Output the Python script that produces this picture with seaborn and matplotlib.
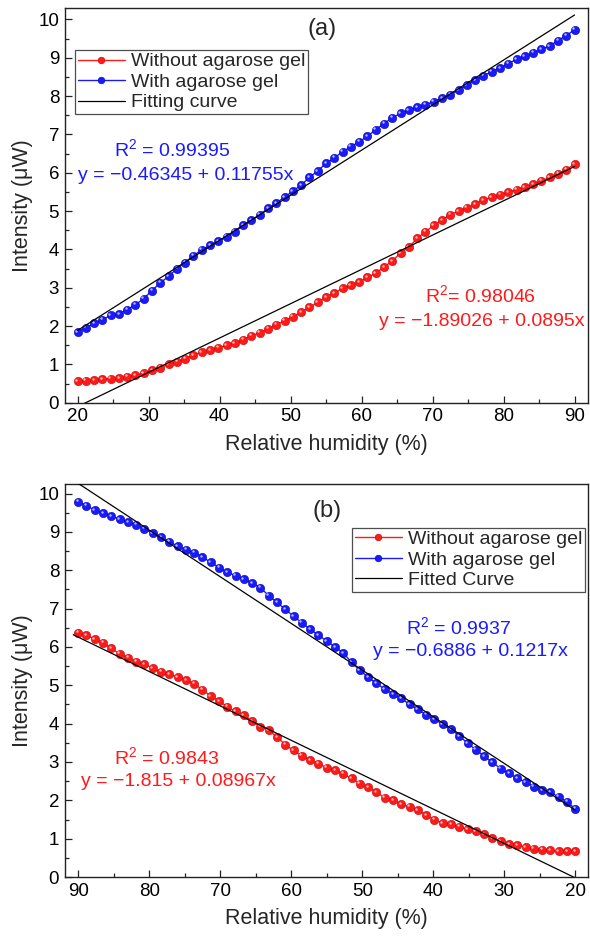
import numpy as np
import pandas as pd
import matplotlib
matplotlib.use("Agg")
import matplotlib.pyplot as plt
import matplotlib.transforms as mtransforms
from matplotlib.ticker import MultipleLocator
import seaborn as sns

sns.set_theme(style="white")
plt.rcParams['font.family'] = ['Liberation Sans', 'DejaVu Sans']
plt.rcParams['mathtext.fontset'] = 'custom'
plt.rcParams['mathtext.rm'] = 'Liberation Sans'

# ---------------- data ----------------
rh_a = np.linspace(20, 90, 61)
without_a = [0.56, 0.58, 0.59, 0.61, 0.63, 0.65, 0.68, 0.72, 0.78, 0.85,
             0.92, 1.00, 1.07, 1.15, 1.25, 1.32, 1.38, 1.44, 1.50, 1.56,
             1.65, 1.75, 1.83, 1.93, 2.04, 2.14, 2.25, 2.36, 2.49, 2.62,
             2.76, 2.86, 2.99, 3.07, 3.15, 3.27, 3.38, 3.54, 3.70, 3.91,
             4.06, 4.29, 4.46, 4.63, 4.77, 4.91, 5.00, 5.09, 5.18, 5.29,
             5.37, 5.43, 5.50, 5.56, 5.63, 5.70, 5.79, 5.88, 5.98, 6.08, 6.23]
with_a = [1.85, 1.96, 2.07, 2.17, 2.28, 2.32, 2.43, 2.56, 2.72, 2.93,
          3.13, 3.30, 3.50, 3.66, 3.84, 3.99, 4.11, 4.21, 4.33, 4.46,
          4.63, 4.76, 4.91, 5.07, 5.21, 5.37, 5.52, 5.68, 5.88, 6.05,
          6.25, 6.39, 6.55, 6.68, 6.81, 6.95, 7.13, 7.28, 7.44, 7.55,
          7.64, 7.71, 7.78, 7.86, 7.95, 8.04, 8.15, 8.29, 8.42, 8.53,
          8.64, 8.73, 8.85, 8.96, 9.04, 9.13, 9.22, 9.31, 9.45, 9.58, 9.73]

rh_b = np.linspace(90, 20, 61)
without_b = [6.37, 6.31, 6.20, 6.11, 5.96, 5.82, 5.72, 5.62, 5.55, 5.44,
             5.35, 5.29, 5.21, 5.14, 5.04, 4.88, 4.72, 4.59, 4.44, 4.32,
             4.22, 4.06, 3.92, 3.83, 3.65, 3.45, 3.30, 3.16, 3.05, 2.96,
             2.85, 2.78, 2.69, 2.57, 2.43, 2.34, 2.21, 2.07, 2.01, 1.90,
             1.83, 1.74, 1.62, 1.49, 1.41, 1.38, 1.31, 1.25, 1.19, 1.11,
             1.02, 0.94, 0.86, 0.83, 0.78, 0.74, 0.71, 0.70, 0.67, 0.67, 0.67]
with_b = [9.79, 9.68, 9.57, 9.48, 9.41, 9.33, 9.26, 9.19, 9.08, 8.96,
          8.86, 8.74, 8.63, 8.54, 8.46, 8.34, 8.21, 8.07, 7.95, 7.86,
          7.77, 7.67, 7.54, 7.34, 7.16, 6.98, 6.80, 6.63, 6.46, 6.31,
          6.15, 6.00, 5.84, 5.60, 5.39, 5.21, 5.05, 4.90, 4.77, 4.66,
          4.50, 4.37, 4.23, 4.12, 3.98, 3.85, 3.68, 3.49, 3.32, 3.15,
          2.99, 2.83, 2.70, 2.58, 2.47, 2.36, 2.27, 2.21, 2.09, 1.96, 1.78]

# fit coefficients (intercept, slope)
fit_a_without = (-1.89026, 0.0895)
fit_a_with = (-0.46345, 0.11755)
fit_b_without = (-1.815, 0.08967)
fit_b_with = (-0.6886, 0.1217)
fit_range_a = [20, 90]
fit_range_b = [20, 90.7]

series_labels = ["Without agarose gel", "With agarose gel"]
fit_labels = ["Fitting curve", "Fitted Curve"]
x_ticks = [20, 30, 40, 50, 60, 70, 80, 90]
y_ticks = list(range(0, 11))

RED = "#ff1a1a"
BLUE = "#1a1aff"
DRED = "#c80000"
DBLUE = "#0000b4"

fig = plt.figure(figsize=(5.9, 9.39), dpi=100)
ax_a = fig.add_axes([0.1097, 0.571, 0.8869, 0.4205])
ax_b = fig.add_axes([0.1097, 0.066, 0.8869, 0.4186])


def draw_series(ax, x, y, color, edge, label):
    df = pd.DataFrame({"x": x, "y": y})
    sns.lineplot(data=df, x="x", y="y", ax=ax, color=color, lw=1.0,
                 marker="o", markersize=6.0, markeredgecolor=edge,
                 markeredgewidth=0.4, label=label, errorbar=None,
                 sort=False, zorder=3)
    off = mtransforms.ScaledTranslation(-1.0 / 72, 1.0 / 72, fig.dpi_scale_trans)
    ax.scatter(x, y, s=3, color="white", alpha=0.7, linewidths=0,
               transform=ax.transData + off, zorder=4)


def draw_fit(ax, coef, xr, label=None):
    xs = np.array(xr, dtype=float)
    ys = coef[0] + coef[1] * xs
    df = pd.DataFrame({"x": xs, "y": ys})
    sns.lineplot(data=df, x="x", y="y", ax=ax, color="black", lw=0.9,
                 label=label, errorbar=None, zorder=5)


for ax in (ax_a, ax_b):
    for s in ax.spines.values():
        s.set_color("#222222")
        s.set_linewidth(1.0)

# panel (a)
draw_series(ax_a, rh_a, without_a, RED, DRED, series_labels[0])
draw_series(ax_a, rh_a, with_a, BLUE, DBLUE, series_labels[1])
draw_fit(ax_a, fit_a_without, fit_range_a, fit_labels[0])
draw_fit(ax_a, fit_a_with, fit_range_a)
ax_a.set_xlim(18.2, 91.9)
ax_a.set_ylim(0, 10.3)

# panel (b)
draw_series(ax_b, rh_b, without_b, RED, DRED, series_labels[0])
draw_series(ax_b, rh_b, with_b, BLUE, DBLUE, series_labels[1])
draw_fit(ax_b, fit_b_without, fit_range_b, fit_labels[1])
draw_fit(ax_b, fit_b_with, fit_range_b)
ax_b.set_xlim(91.9, 18.2)
ax_b.set_ylim(0, 10.25)

for ax in (ax_a, ax_b):
    ax.set_xticks(x_ticks)
    ax.set_yticks(y_ticks)
    ax.xaxis.set_minor_locator(MultipleLocator(5))
    ax.yaxis.set_minor_locator(MultipleLocator(0.5))
    ax.tick_params(which="both", direction="in", bottom=True, left=True,
                   top=False, right=False, colors="#222222",
                   labelsize=13.5, labelcolor="black")
    ax.tick_params(which="major", length=5, width=0.9, pad=4)
    ax.tick_params(which="minor", length=3, width=0.9)
    ax.set_xlabel("Relative humidity (%)", fontsize=15.5, labelpad=6)
    ax.set_ylabel("Intensity (μW)", fontsize=15.5, labelpad=4)

# legends
leg_kw = dict(borderaxespad=0, fontsize=14, frameon=True, fancybox=False,
              edgecolor="#222222", labelspacing=0.15, borderpad=0.15,
              handletextpad=0.3, handlelength=2.4, markerscale=0.8)
h, l = ax_a.get_legend_handles_labels()
leg = ax_a.legend(h, l, loc="upper left", bbox_to_anchor=(0.02, 0.894), **leg_kw)
leg.get_frame().set_linewidth(0.9)
h, l = ax_b.get_legend_handles_labels()
leg = ax_b.legend(h, l, loc="upper right", bbox_to_anchor=(0.994, 0.889), **leg_kw)
leg.get_frame().set_linewidth(0.9)

# annotations
fs = 14
ax_a.text(54.5, 9.75, "(a)", fontsize=17, ha="center", va="center")
ax_a.text(25.1, 6.59, r"R$^2$ = 0.99395", fontsize=fs, color=BLUE, va="center")
ax_a.text(20.1, 5.93, "y = −0.46345 + 0.11755x", fontsize=fs, color=BLUE, va="center")
ax_a.text(68.9, 2.78, r"R$^2$= 0.98046", fontsize=fs, color=RED, va="center")
ax_a.text(62.4, 2.12, "y = −1.89026 + 0.0895x", fontsize=fs, color=RED, va="center")

ax_b.text(54.9, 9.55, "(b)", fontsize=17, ha="center", va="center")
ax_b.text(43.8, 6.49, r"R$^2$ = 0.9937", fontsize=fs, color=BLUE, va="center")
ax_b.text(48.5, 5.87, "y = −0.6886 + 0.1217x", fontsize=fs, color=BLUE, va="center")
ax_b.text(84.9, 3.11, r"R$^2$ = 0.9843", fontsize=fs, color=RED, va="center")
ax_b.text(89.6, 2.49, "y = −1.815 + 0.08967x", fontsize=fs, color=RED, va="center")

fig.savefig("out.png", dpi=100)
